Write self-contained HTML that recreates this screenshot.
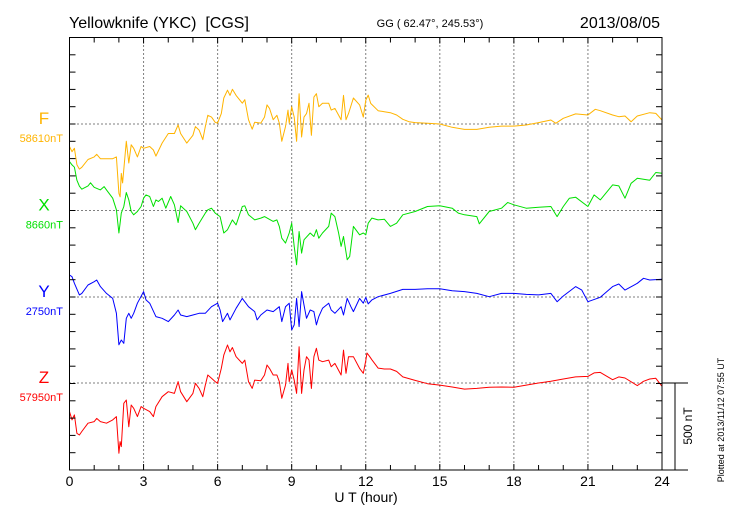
<!DOCTYPE html>
<html><head><meta charset="utf-8"><style>
body{margin:0;background:#fff;}
svg text{font-family:"Liberation Sans",sans-serif;}
</style></head><body>
<svg id="chart" width="730" height="520" xmlns="http://www.w3.org/2000/svg">
<rect width="730" height="520" fill="#fff"/>
<g id="grid"></g>
<g id="series"></g>
<g id="axes"></g>
<text x="69" y="28" font-size="16" style="white-space:pre">Yellowknife (YKC)  [CGS]</text>
<text x="430" y="27" font-size="11" text-anchor="middle">GG ( 62.47°, 245.53°)</text>
<text x="660" y="28" font-size="16" text-anchor="end">2013/08/05</text>
<text x="366" y="502" font-size="14" text-anchor="middle">U T (hour)</text>
<text x="0" y="0" font-size="9" text-anchor="middle" transform="translate(724,420) rotate(-90)">Plotted at 2013/11/12 07:55 UT</text>
<text x="0" y="0" font-size="12" text-anchor="middle" transform="translate(692,426) rotate(-90)">500 nT</text>
</svg>
<script>
const xTicks=[0,3,6,9,12,15,18,21,24];
const names=["F","X","Y","Z"];
const baseLabels=["58610nT","8660nT","2750nT","57950nT"];
const colors=["#ffb400","#00e000","#0000ff","#ff0000"];
const tF=[0,0.1,0.2,0.3,0.4,0.5,0.75,1,1.1,1.25,1.5,1.75,1.9,2,2.05,2.1,2.15,2.3,2.4,2.5,2.6,2.75,2.9,3,3.25,3.4,3.5,3.75,4,4.25,4.4,4.5,4.75,5,5.1,5.25,5.4,5.5,5.6,5.75,5.9,6,6.15,6.25,6.4,6.5,6.6,6.75,7,7.1,7.25,7.4,7.5,7.75,7.9,8,8.1,8.25,8.4,8.5,8.6,8.75,8.85,8.9,9,9.1,9.2,9.3,9.4,9.5,9.6,9.7,9.8,9.9,10,10.1,10.25,10.5,10.6,10.75,11,11.1,11.2,11.3,11.5,11.75,11.9,12,12.1,12.2,12.5,12.75,13,13.25,13.5,13.75,14,14.5,15,15.5,16,16.5,17,17.5,18,18.5,19,19.5,19.7,20,20.5,21,21.3,21.5,22,22.25,22.5,22.75,23,23.5,23.75,24];
const vF=[-130,-160,-140,-235,-260,-250,-205,-190,-175,-200,-200,-200,-190,-400,-420,-285,-340,-100,-225,-120,-140,-190,-130,-140,-130,-150,-185,-110,-55,-55,-5,-55,-110,-65,-15,-35,-90,-15,50,40,10,5,60,150,195,165,200,165,120,140,25,-30,10,5,40,110,90,25,50,5,-100,-15,80,5,100,40,-100,175,-75,40,60,120,-65,155,175,100,120,120,80,90,25,165,25,60,150,110,40,138,167,119,77,71,65,52,27,13,8,4,0,-19,-31,-31,-19,-12,-12,-6,8,23,4,33,58,52,85,77,52,42,46,13,46,65,61,23];
const tX=[0,0.1,0.2,0.3,0.4,0.5,0.75,0.85,1,1.25,1.4,1.5,1.75,1.9,2,2.05,2.1,2.2,2.3,2.4,2.5,2.6,2.75,2.9,3,3.1,3.25,3.4,3.5,3.6,3.75,3.9,4.1,4.25,4.4,4.5,4.75,5,5.1,5.25,5.5,5.6,5.75,5.9,6.1,6.25,6.4,6.6,6.75,7,7.1,7.25,7.5,7.75,7.9,8.25,8.4,8.5,8.6,8.75,8.9,9,9.1,9.2,9.3,9.4,9.5,9.75,9.9,10,10.1,10.25,10.5,10.6,10.75,10.9,11,11.1,11.25,11.35,11.5,11.75,11.9,12,12.1,12.25,12.5,12.75,13,13.25,13.5,14,14.5,15,15.5,15.75,16,16.5,16.6,17,17.5,17.75,18,18.5,19,19.5,19.75,20,20.25,20.5,21,21.25,21.5,22,22.25,22.5,22.75,23,23.5,23.75,24];
const vX=[282,263,250,175,140,123,142,160,134,119,138,119,71,4,-130,-73,-15,23,104,61,-6,-25,-6,23,71,90,81,23,61,52,71,13,81,33,-69,27,-6,-73,-111,-73,-15,4,13,-15,-35,-130,-111,-54,-83,23,27,-25,-54,-44,-35,-63,-54,-92,-160,-188,-130,-73,-207,-313,-121,-246,-169,-130,-150,-111,-160,-130,-92,-15,-35,-130,-207,-150,-284,-265,-92,-140,-130,-140,-73,-44,-54,-50,-92,-73,-25,-6,23,27,13,-15,-25,-35,-77,-6,13,46,33,13,19,23,-35,23,71,77,23,90,61,148,142,71,157,186,175,219,215];
const tY=[0,0.1,0.2,0.4,0.5,0.75,1,1.1,1.25,1.5,1.75,1.9,2,2.1,2.2,2.3,2.4,2.5,2.6,2.75,3,3.1,3.25,3.5,3.75,4,4.25,4.4,4.5,4.75,5,5.25,5.5,5.75,6,6.1,6.2,6.4,6.5,6.75,7,7.25,7.5,7.6,7.75,8,8.25,8.5,8.6,8.75,8.9,9,9.1,9.2,9.3,9.4,9.5,9.6,9.75,9.9,10,10.1,10.25,10.5,10.6,10.75,11,11.1,11.25,11.4,11.5,11.75,11.9,12,12.1,12.25,12.5,13,13.5,14,14.5,15,15.5,16,16.5,17,17.5,18,18.5,19,19.5,19.75,20,20.5,20.75,21,21.5,22,22.25,22.5,23,23.25,23.5,24];
const vY=[127,117,79,12,21,69,88,98,60,21,-8,-94,-276,-248,-267,-123,-94,-123,-94,-36,31,-17,-36,-113,-123,-142,-104,-75,-104,-113,-104,-94,-94,-56,-36,-75,-142,-94,-132,-65,-8,-56,-84,-132,-104,-75,-84,-56,-142,-56,-36,-190,-161,-8,-171,31,-46,-123,-75,-84,-161,-113,-65,-36,-75,-94,-56,-104,-8,-56,-84,-8,-36,-2,-40,-17,2,21,44,44,48,48,36,31,21,2,21,21,15,12,21,-27,6,60,40,-27,-2,60,75,40,79,108,98,102];
const tZ=[0,0.1,0.2,0.3,0.4,0.5,0.75,1,1.1,1.25,1.5,1.75,1.9,2,2.05,2.1,2.2,2.3,2.4,2.5,2.6,2.75,2.9,3,3.25,3.4,3.5,3.75,4,4.25,4.4,4.5,4.75,5,5.1,5.25,5.4,5.5,5.6,5.75,5.9,6,6.15,6.25,6.4,6.5,6.6,6.75,7,7.1,7.25,7.4,7.5,7.75,7.9,8,8.1,8.25,8.4,8.5,8.6,8.75,8.85,8.9,9,9.1,9.2,9.3,9.4,9.5,9.6,9.7,9.8,9.9,10,10.1,10.25,10.5,10.6,10.75,11,11.1,11.2,11.3,11.5,11.75,11.9,12,12.05,12.15,12.25,12.5,12.75,13,13.25,13.5,14,14.5,15,15.5,16,16.5,17,17.5,18,18.5,19,19.5,20,20.5,21,21.25,21.5,22,22.25,22.5,23,23.25,23.5,23.75,24];
const vZ=[-165,-213,-184,-290,-300,-280,-232,-223,-204,-223,-232,-213,-194,-405,-338,-367,-117,-98,-252,-127,-146,-194,-136,-146,-165,-194,-136,-79,-50,-60,8,-50,-108,-60,-2,-31,-79,-12,46,27,8,-2,84,161,219,180,205,152,113,132,8,-31,17,13,46,104,84,46,46,8,-88,-12,113,8,75,17,-60,209,-60,75,152,132,-31,152,200,132,123,132,94,113,46,190,56,152,152,84,56,130,173,154,134,86,81,81,67,35,15,-4,-12,-23,-35,-31,-25,-23,-25,-12,0,10,23,35,38,58,61,19,35,29,-15,10,23,27,-19];
const times=[tF,tX,tY,tZ];
const vals=[vF,vX,vY,vZ];
const baseNT=[0,0,0,0];

const NS="http://www.w3.org/2000/svg";
const X0=69.5,X1=662,YT=37.5,YB=470;
const baseY=[124,210.5,297,383];
const pxPerNT=0.1733;
function sx(t){return X0+t*(X1-X0)/24;}
function sy(i,v){return baseY[i]-(v-baseNT[i])*pxPerNT;}
function mk(tag,attrs,parent){const e=document.createElementNS(NS,tag);for(const k in attrs)e.setAttribute(k,attrs[k]);parent.appendChild(e);return e;}
const grid=document.getElementById('grid'),axes=document.getElementById('axes'),ser=document.getElementById('series'),svg=document.getElementById('chart');
xTicks.forEach(t=>{if(t>0&&t<24){const l=mk('line',{x1:sx(t),x2:sx(t),y1:YT,y2:YB,stroke:'#000','stroke-width':1,'stroke-dasharray':'1,3'},grid);

}});
baseY.forEach((y,i)=>{const l=mk('line',{x1:X0,x2:X1,y1:y,y2:y,stroke:'#000','stroke-width':1,'stroke-dasharray':'1,3'},grid);

});
names.forEach((n,i)=>{let d='';times[i].forEach((t,j)=>{d+=(j?'L':'M')+sx(t).toFixed(1)+','+sy(i,vals[i][j]).toFixed(1);});
const p=mk('path',{d:d,fill:'none',stroke:colors[i],'stroke-width':1,'stroke-linejoin':'round'},ser);


const a=mk('text',{x:44,y:baseY[i]-0,'font-size':17,fill:colors[i],'text-anchor':'middle'},svg);a.textContent=n;


const b=mk('text',{x:63,y:baseY[i]+18,'font-size':11,fill:colors[i],'text-anchor':'end'},svg);b.textContent=baseLabels[i];

});
const fr=mk('rect',{x:X0,y:YT,width:X1-X0,height:YB-YT,fill:'none',stroke:'#000','stroke-width':1},axes);


for(let h=1;h<24;h++){const len=h%3===0?6:5;
mk('line',{x1:sx(h),x2:sx(h),y1:YT,y2:YT+len,stroke:'#000'},axes);
mk('line',{x1:sx(h),x2:sx(h),y1:YB,y2:YB-len,stroke:'#000'},axes);}
for(let y=YB-17.3;y>YT+2;y-=17.3){mk('line',{x1:X0,x2:X0+6,y1:y,y2:y,stroke:'#000'},axes);mk('line',{x1:X1,x2:X1-6,y1:y,y2:y,stroke:'#000'},axes);}
xTicks.forEach(t=>{const tx=mk('text',{x:sx(t),y:486,'font-size':14,'text-anchor':'middle'},axes);tx.textContent=t;

});
mk('line',{x1:X1,x2:688,y1:383,y2:383,stroke:'#000'},axes);
mk('line',{x1:X1,x2:688,y1:YB,y2:YB,stroke:'#000'},axes);
const sb=mk('line',{x1:675,x2:675,y1:383,y2:YB,stroke:'#000'},axes);


</script>
</body></html>
